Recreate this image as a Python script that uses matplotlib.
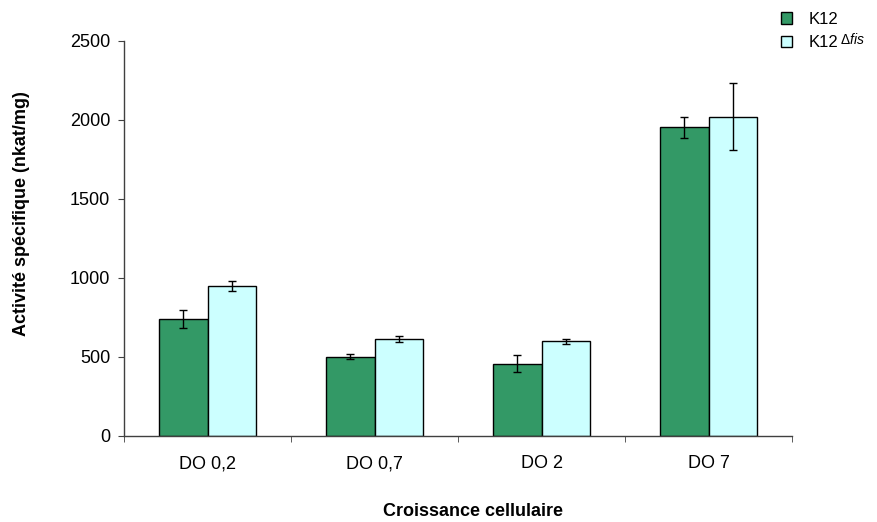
import numpy as np
import matplotlib
matplotlib.use("Agg")
from matplotlib import pyplot as plt
from matplotlib.patches import Patch

plt.rcParams['font.family'] = ['Liberation Sans', 'DejaVu Sans']
plt.rcParams['mathtext.fontset'] = 'custom'
plt.rcParams['mathtext.rm'] = 'Liberation Sans'
plt.rcParams['mathtext.it'] = 'Liberation Sans:italic'

# data
categories = ['DO 0,2', 'DO 0,7', 'DO 2', 'DO 7']
k12 = [740, 502, 458, 1953]
k12_err = [57, 17, 56, 65]
fis = [951, 612, 599, 2021]
fis_err = [32, 20, 17, 210]
yticks = [0, 500, 1000, 1500, 2000, 2500]

GREEN = '#339966'
CYAN = '#ccffff'
AXIS = '#404040'

fig = plt.figure(figsize=(8.77, 5.22), dpi=100)
ax = fig.add_axes([0.1414, 0.1648, 0.7617, 0.7567])

x = np.arange(len(categories))
w = 0.288
err_kw = dict(ecolor='black', elinewidth=1, capsize=3, capthick=1)
ax.bar(x - w / 2, k12, w, yerr=k12_err, color=GREEN, edgecolor='black', linewidth=1, error_kw=err_kw)
ax.bar(x + w / 2, fis, w, yerr=fis_err, color=CYAN, edgecolor='black', linewidth=1, error_kw=err_kw)

ax.set_xlim(-0.5, len(categories) - 0.5)
ax.set_ylim(0, 2500)
ax.set_yticks(yticks)
ax.set_xticks(x)
ax.set_xticklabels(categories, fontsize=13)
ax.set_xticks(np.arange(len(categories) + 1) - 0.5, minor=True)
ax.tick_params(axis='x', which='major', length=0, pad=14)
ax.tick_params(axis='x', which='minor', length=4, direction='out', color=AXIS)
ax.tick_params(axis='y', length=4, direction='out', labelsize=13, color=AXIS, pad=6)

for side in ['top', 'right']:
    ax.spines[side].set_visible(False)
for side in ['left', 'bottom']:
    ax.spines[side].set_color(AXIS)
    ax.spines[side].set_linewidth(1)

fig.text(22 / 877, 1 - 214 / 522, 'Activité spécifique (nkat/mg)', rotation=90,
         ha='center', va='center', fontsize=13, fontweight='bold')
fig.text(473 / 877, 1 - 512 / 522, 'Croissance cellulaire',
         ha='center', va='center', fontsize=13, fontweight='bold')

handles = [Patch(facecolor=GREEN, edgecolor='black'),
           Patch(facecolor=CYAN, edgecolor='black')]
leg = fig.legend(handles, ['K12', 'K12'], loc='upper left', bbox_to_anchor=(0.874, 1.006),
                 frameon=False, fontsize=12, handlelength=0.65, handleheight=0.65,
                 handletextpad=1.0, labelspacing=0.5)

# the strain suffix sits a little raised after the second label
fig.canvas.draw()
bb = leg.get_texts()[1].get_window_extent().transformed(fig.transFigure.inverted())
fig.text(bb.x1 + 1 / 877, bb.y0 + 3 / 522, r'$\Delta\mathit{fis}$', fontsize=10,
         ha='left', va='bottom')

fig.savefig('out.png', dpi=100)
